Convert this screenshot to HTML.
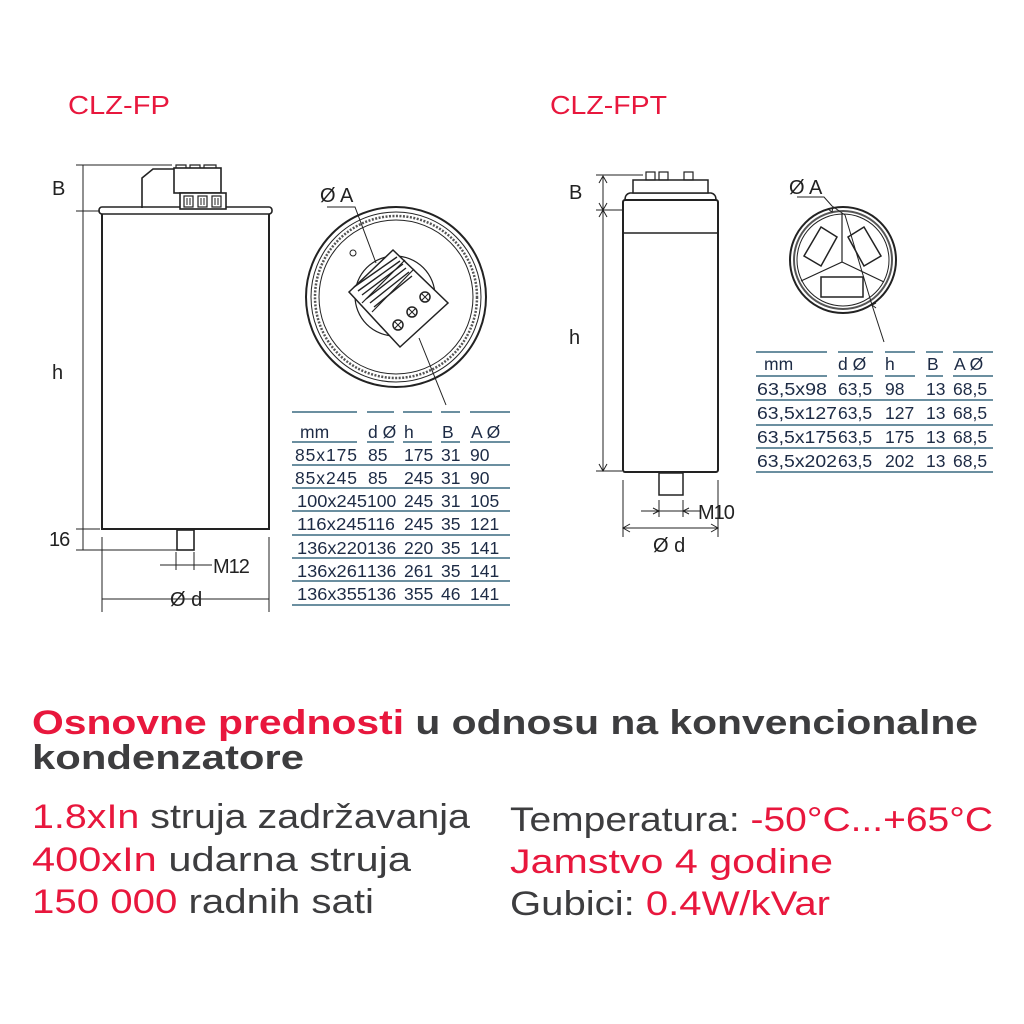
<!DOCTYPE html>
<html><head><meta charset="utf-8"><style>
html,body{margin:0;padding:0;background:#fff;width:1024px;height:1024px;overflow:hidden}
svg{display:block}
.t{font-family:"Liberation Sans",Arial,sans-serif;font-size:17.5px;fill:#1d2b45}
.d{font-family:"Liberation Sans",Arial,sans-serif;font-size:20px;fill:#222}
.ln{stroke:#3a6a80;stroke-width:1.5}
</style></head><body>
<svg width="1024" height="1024" viewBox="0 0 1024 1024" xmlns="http://www.w3.org/2000/svg">
<g font-family="Liberation Sans, Arial, sans-serif" font-size="26" fill="#e8173d">
<text x="68" y="114" textLength="102" lengthAdjust="spacingAndGlyphs">CLZ-FP</text>
<text x="550" y="114" textLength="117" lengthAdjust="spacingAndGlyphs">CLZ-FPT</text>
</g>

<!-- LEFT CAPACITOR -->
<g fill="none" stroke="#222" stroke-width="1.6">
<rect x="102" y="211" width="167" height="318" stroke-width="2"/>
<rect x="99" y="207" width="173" height="7" rx="3" fill="#fff"/>
<path d="M142 208 V178 L153 169 H174"/>
<rect x="174" y="168" width="47" height="25" fill="#fff"/>
<path d="M176 168 v-3 h10 v3 M190 168 v-3 h10 v3 M204 168 v-3 h12 v3" stroke-width="1.2"/>
<rect x="180" y="193" width="46" height="16" fill="#fff"/>
<rect x="184" y="196" width="9" height="11" stroke-width="1.2"/>
<rect x="198" y="196" width="9" height="11" stroke-width="1.2"/>
<rect x="212" y="196" width="9" height="11" stroke-width="1.2"/>
<path d="M187 198 v7 M190 198 v7 M201 198 v7 M204 198 v7 M215 198 v7 M218 198 v7" stroke-width="1"/>
<rect x="177" y="530" width="17" height="20"/>
</g>
<g stroke="#222" stroke-width="1" fill="none">
<path d="M83 165 V550 M76 165 H172 M76 211 H100 M76 529 H100 M76 550 H178"/>
<path d="M102 537 V612 M269 537 V612 M102 599 H269"/>
<path d="M160 565 H212 M176 552 V570 M194 552 V570"/>
</g>
<text class="d" x="52" y="195">B</text>
<text class="d" x="52" y="379">h</text>
<text class="d" x="49" y="546" letter-spacing="-1">16</text>
<text class="d" x="213" y="573" letter-spacing="-1">M12</text>
<text class="d" x="170" y="606">Ø d</text>

<!-- LEFT TOP VIEW -->
<g fill="none" stroke="#222">
<circle cx="396" cy="297" r="90" stroke-width="2"/>
<circle cx="396" cy="297" r="85" stroke-width="1"/>
<circle cx="396" cy="297" r="81" stroke-width="2.5" stroke-dasharray="2 1.5" stroke="#555"/>
<circle cx="396" cy="297" r="77" stroke-width="1"/>
<circle cx="353" cy="253" r="3" stroke-width="1"/>
<circle cx="395" cy="296" r="40" stroke-width="1.2"/>
<polygon points="349,292 393,250 448,303 400,347" fill="#fff" stroke-width="1.5"/>
<path d="M362 303 L405 260 M372 312 L414 269" stroke-width="1.2"/>
<path d="M354 287 L397 257 M358 291 L400 261 M362 295 L403 264 M366 299 L406 268 M370 303 L409 272 M374 307 L412 276" stroke-width="1.4"/>
<circle cx="425" cy="297" r="5" stroke-width="1.5"/>
<circle cx="412" cy="312" r="5" stroke-width="1.5"/>
<circle cx="398" cy="325" r="5" stroke-width="1.5"/>
<path d="M422 294 l6 6 M428 294 l-6 6 M409 309 l6 6 M415 309 l-6 6 M395 322 l6 6 M401 322 l-6 6" stroke-width="1"/>
<path d="M327 207 H355 L376 263 M419 338 L446 405" stroke-width="1"/>
</g>
<text class="d" x="320" y="202" fill="#222">Ø A</text>

<!-- LEFT TABLE -->
<g class="ln">
<path d="M292 412 H357 M367 412 H394 M403 412 H432 M441 412 H460 M470 412 H510"/>
<path d="M292 442 H357 M367 442 H394 M403 442 H432 M441 442 H460 M470 442 H510"/>
<path d="M292 465 H510 M292 488 H510 M292 511 H510 M292 535 H510 M292 558 H510 M292 581 H510 M292 605 H510"/>
</g>
<g class="t">
<text x="300" y="438">mm</text><text x="368" y="438">d Ø</text><text x="404" y="438">h</text><text x="442" y="438">B</text><text x="471" y="438">A Ø</text>
<text x="295" y="461" textLength="62">85x175</text><text x="368" y="461">85</text><text x="404" y="461">175</text><text x="441" y="461">31</text><text x="470" y="461">90</text>
<text x="295" y="484" textLength="62">85x245</text><text x="368" y="484">85</text><text x="404" y="484">245</text><text x="441" y="484">31</text><text x="470" y="484">90</text>
<text x="297" y="507" textLength="70" lengthAdjust="spacingAndGlyphs">100x245</text><text x="367" y="507">100</text><text x="404" y="507">245</text><text x="441" y="507">31</text><text x="470" y="507">105</text>
<text x="297" y="530" textLength="70" lengthAdjust="spacingAndGlyphs">116x245</text><text x="367" y="530">116</text><text x="404" y="530">245</text><text x="441" y="530">35</text><text x="470" y="530">121</text>
<text x="297" y="554" textLength="70" lengthAdjust="spacingAndGlyphs">136x220</text><text x="367" y="554">136</text><text x="404" y="554">220</text><text x="441" y="554">35</text><text x="470" y="554">141</text>
<text x="297" y="577" textLength="70" lengthAdjust="spacingAndGlyphs">136x261</text><text x="367" y="577">136</text><text x="404" y="577">261</text><text x="441" y="577">35</text><text x="470" y="577">141</text>
<text x="297" y="600" textLength="70" lengthAdjust="spacingAndGlyphs">136x355</text><text x="367" y="600">136</text><text x="404" y="600">355</text><text x="441" y="600">46</text><text x="470" y="600">141</text>
</g>

<!-- RIGHT CAPACITOR -->
<g fill="none" stroke="#222" stroke-width="1.8">
<rect x="623" y="200" width="95" height="272" rx="2" stroke-width="2"/>
<path d="M623 233 H718" stroke-width="1.5"/>
<path d="M625 200 Q625 194 630 193 H711 Q716 194 716 200" stroke-width="1.5"/>
<rect x="633" y="180" width="75" height="13" fill="#fff" stroke-width="1.5"/>
<rect x="646" y="172" width="9" height="8" stroke-width="1.2"/>
<rect x="659" y="172" width="9" height="8" stroke-width="1.2"/>
<rect x="684" y="172" width="9" height="8" stroke-width="1.2"/>
<rect x="659" y="473" width="24" height="22" stroke-width="1.5"/>
</g>
<g stroke="#222" stroke-width="1" fill="none">
<path d="M603 176 V471 M596 175 H643 M596 210 H622 M596 471 H622"/>
<path d="M599 183 L603 176 L607 183 M599 203 L603 210 L607 203 M599 217 L603 210 L607 217 M599 464 L603 471 L607 464"/>
<path d="M623 480 V537 M718 480 V537 M623 528 H718 M630 524 L623 528 L630 532 M711 524 L718 528 L711 532"/>
<path d="M641 511 H700 M659 500 V517 M683 500 V517 M653 508 L659 511 L653 514 M689 508 L683 511 L689 514"/>
</g>
<text class="d" x="569" y="199">B</text>
<text class="d" x="569" y="344">h</text>
<text class="d" x="698" y="519" letter-spacing="-1">M10</text>
<text class="d" x="653" y="552">Ø d</text>

<!-- RIGHT TOP VIEW -->
<g fill="none" stroke="#222">
<circle cx="843" cy="260" r="53" stroke-width="2"/>
<circle cx="843" cy="260" r="49" stroke-width="2" stroke="#555"/>
<circle cx="843" cy="260" r="46" stroke-width="1"/>
<path d="M842 213 V262 L801 281 M842 262 L884 282" stroke-width="1.2"/>
<polygon points="821,227 837,237 821,266 804,256" stroke-width="1.5"/>
<polygon points="864,227 848,237 864,266 881,256" stroke-width="1.5"/>
<rect x="821" y="277" width="42" height="20" stroke-width="1.5"/>
<path d="M797 197 H824 L832 206 M832 206 L845 215 M845 215 L872 305 L884 342" stroke-width="1"/>
<path d="M828 209 L832 212 L833 207 M876 303 L872 305 L876 308" stroke-width="1"/>
</g>
<text class="d" x="789" y="194" fill="#222">Ø A</text>

<!-- RIGHT TABLE -->
<g class="ln">
<path d="M756 352 H827 M838 352 H873 M885 352 H915 M926 352 H943 M953 352 H993"/>
<path d="M756 376 H827 M838 376 H873 M885 376 H915 M926 376 H943 M953 376 H993"/>
<path d="M756 400 H993 M756 425 H993 M756 448 H993 M756 472 H993"/>
</g>
<g class="t">
<text x="764" y="370">mm</text><text x="838" y="370">d Ø</text><text x="885" y="370">h</text><text x="927" y="370">B</text><text x="954" y="370">A Ø</text>
<text x="757" y="395" textLength="70" lengthAdjust="spacingAndGlyphs">63,5x98</text><text x="838" y="395">63,5</text><text x="885" y="395">98</text><text x="926" y="395">13</text><text x="953" y="395">68,5</text>
<text x="757" y="419" textLength="80" lengthAdjust="spacingAndGlyphs">63,5x127</text><text x="838" y="419">63,5</text><text x="885" y="419">127</text><text x="926" y="419">13</text><text x="953" y="419">68,5</text>
<text x="757" y="443" textLength="80" lengthAdjust="spacingAndGlyphs">63,5x175</text><text x="838" y="443">63,5</text><text x="885" y="443">175</text><text x="926" y="443">13</text><text x="953" y="443">68,5</text>
<text x="757" y="467" textLength="80" lengthAdjust="spacingAndGlyphs">63,5x202</text><text x="838" y="467">63,5</text><text x="885" y="467">202</text><text x="926" y="467">13</text><text x="953" y="467">68,5</text>
</g>

<!-- BOTTOM TEXT -->
<g font-family="Liberation Sans, Arial, sans-serif" font-weight="bold" font-size="34">
<text x="32" y="734" textLength="946" lengthAdjust="spacingAndGlyphs" fill="#3d3d3f"><tspan fill="#e8173d">Osnovne prednosti</tspan> u odnosu na konvencionalne</text>
<text x="32" y="769" textLength="272" lengthAdjust="spacingAndGlyphs" fill="#3d3d3f">kondenzatore</text>
</g>
<g font-family="Liberation Sans, Arial, sans-serif" font-size="34" fill="#3d3d3f">
<text x="32" y="828" textLength="438" lengthAdjust="spacingAndGlyphs"><tspan fill="#e8173d">1.8xIn</tspan> struja zadržavanja</text>
<text x="32" y="871" textLength="379" lengthAdjust="spacingAndGlyphs"><tspan fill="#e8173d">400xIn</tspan> udarna struja</text>
<text x="32" y="913" textLength="342" lengthAdjust="spacingAndGlyphs"><tspan fill="#e8173d">150 000</tspan> radnih sati</text>
<text x="510" y="831" textLength="483" lengthAdjust="spacingAndGlyphs">Temperatura: <tspan fill="#e8173d">-50°C...+65°C</tspan></text>
<text x="510" y="873" textLength="323" lengthAdjust="spacingAndGlyphs" fill="#e8173d">Jamstvo 4 godine</text>
<text x="510" y="915" textLength="320" lengthAdjust="spacingAndGlyphs">Gubici: <tspan fill="#e8173d">0.4W/kVar</tspan></text>
</g>
</svg>
</body></html>
